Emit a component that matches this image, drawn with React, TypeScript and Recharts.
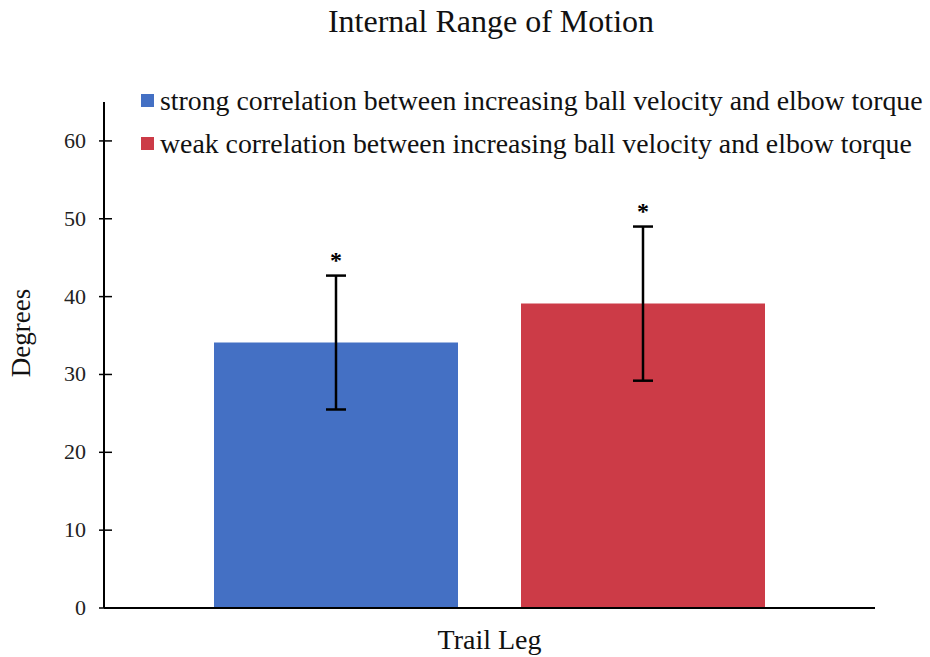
import React from 'react';
import { BarChart, Bar, XAxis, YAxis, ErrorBar, LabelList } from 'recharts';

const categories = ['Trail Leg'];
const strongMeans = [34.1];
const strongErrors = [8.6];
const weakMeans = [39.1];
const weakErrors = [9.9];
const yTicks = [0, 10, 20, 30, 40, 50, 60];

const seriesNames = [
  'strong correlation between increasing ball velocity and elbow torque',
  'weak correlation between increasing ball velocity and elbow torque',
];
const colors = ['#4470C4', '#CC3B47'];

const data = categories.map((c, i) => ({
  name: c,
  strong: strongMeans[i],
  strongErr: strongErrors[i],
  weak: weakMeans[i],
  weakErr: weakErrors[i],
}));

const FONT = '"Liberation Serif", "Times New Roman", serif';

// asterisk sits just above the top of the error bar
const makeStar = (errors: number[]) => (props: any) => {
  const { x, y, width, height, value, index } = props;
  const pxPerUnit = height / value;
  const top = y - errors[index ?? 0] * pxPerUnit;
  return (
    <text x={x + width / 2} y={top - 8} textAnchor="middle" fontFamily={FONT} fontWeight="bold" fontSize={24} fill="#000">
      *
    </text>
  );
};

const YTick = (props: any) => {
  const { x, y, payload } = props;
  return (
    <g>
      <line x1={x - 5} x2={x + 8} y1={y} y2={y} stroke="#000" strokeWidth={1.5} />
      <text x={x - 18} y={y} dy={7} textAnchor="end" fontFamily={FONT} fontSize={22} fill="#222">
        {payload.value}
      </text>
    </g>
  );
};

const XTick = (props: any) => {
  const { x, y, payload } = props;
  return (
    <text x={x} y={y} dy={33} textAnchor="middle" fontFamily={FONT} fontSize={28} fill="#111">
      {payload.value}
    </text>
  );
};

const YLabel = (props: any) => {
  const { viewBox } = props;
  const cx = viewBox.x + 30;
  const cy = viewBox.y + viewBox.height / 2 - 22;
  return (
    <text x={cx} y={cy} transform={`rotate(-90 ${cx} ${cy})`} textAnchor="middle" fontFamily={FONT} fontSize={27} fill="#111">
      Degrees
    </text>
  );
};

export default function App() {
  return (
    <div style={{ position: 'absolute', left: 0, top: 0, width: 930, height: 657, background: '#fff', fontFamily: FONT }}>
      <div style={{ position: 'absolute', top: 3, left: 0, width: 982, textAlign: 'center', fontSize: 32, color: '#111' }}>
        Internal Range of Motion
      </div>

      <div style={{ position: 'absolute', top: 79, left: 141, fontSize: 27.8, color: '#111', lineHeight: '43px' }}>
        {seriesNames.map((n, i) => (
          <div key={n} style={{ display: 'flex', alignItems: 'center', whiteSpace: 'nowrap' }}>
            <span style={{ display: 'inline-block', width: 13, height: 13, background: colors[i], marginRight: 6 }} />
            {n}
          </div>
        ))}
      </div>

      <BarChart
        width={930}
        height={657}
        data={data}
        margin={{ top: 102, right: 55, bottom: 0, left: 0 }}
        barCategoryGap={110}
        barGap={63}
      >
        <XAxis
          dataKey="name"
          height={49}
          axisLine={{ stroke: '#000', strokeWidth: 2 }}
          tickLine={false}
          tick={<XTick />}
        />
        <YAxis
          width={104}
          domain={[0, 65]}
          ticks={yTicks}
          interval={0}
          tickSize={0}
          tickMargin={0}
          axisLine={{ stroke: '#000', strokeWidth: 2 }}
          tickLine={false}
          tick={<YTick />}
          label={<YLabel />}
        />
        <Bar dataKey="strong" fill={colors[0]} isAnimationActive={false}>
          <ErrorBar dataKey="strongErr" width={10} strokeWidth={2.5} stroke="#000" direction="y" />
          <LabelList dataKey="strong" content={makeStar(strongErrors)} />
        </Bar>
        <Bar dataKey="weak" fill={colors[1]} isAnimationActive={false}>
          <ErrorBar dataKey="weakErr" width={10} strokeWidth={2.5} stroke="#000" direction="y" />
          <LabelList dataKey="weak" content={makeStar(weakErrors)} />
        </Bar>
      </BarChart>
    </div>
  );
}
